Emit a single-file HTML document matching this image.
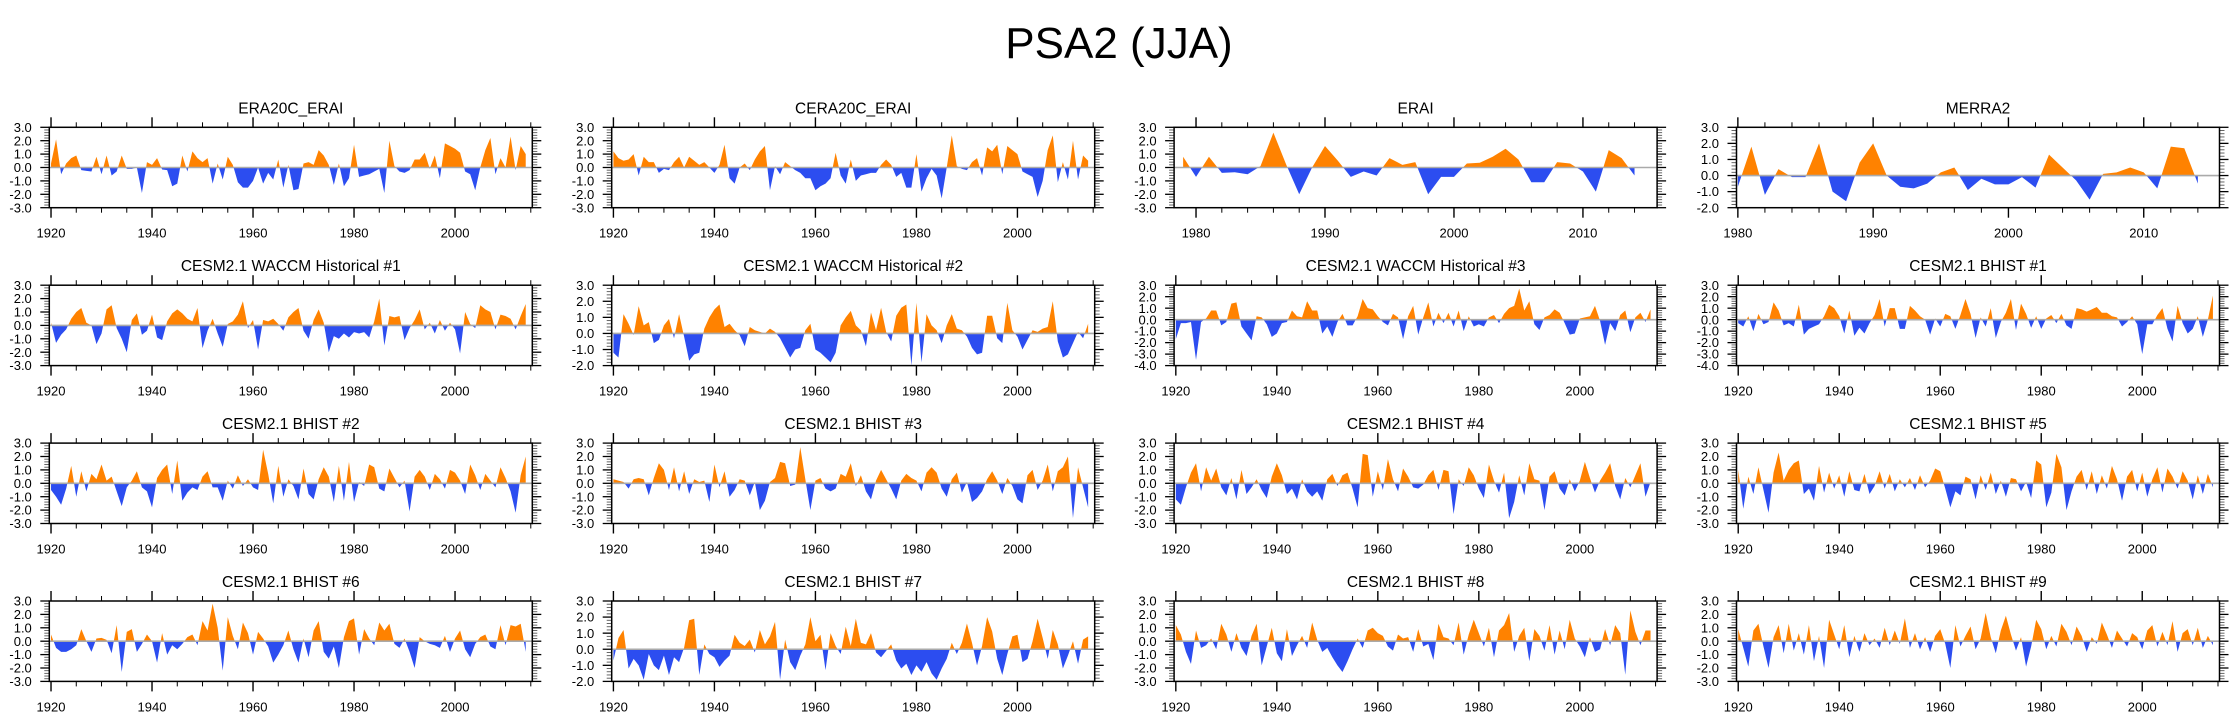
<!DOCTYPE html>
<html><head><meta charset="utf-8"><title>PSA2 (JJA)</title>
<style>
html,body{margin:0;padding:0;background:#fff;}
svg{display:block;font-family:"Liberation Sans",Arial,sans-serif;}
</style></head>
<body>
<svg id="fig" xmlns="http://www.w3.org/2000/svg" width="2238" height="719" viewBox="0 0 2238 719">
<rect x="0" y="0" width="2238" height="719" fill="#fff"/>
<text x="1119" y="58" text-anchor="middle" font-size="44" fill="#000">PSA2 (JJA)</text>
</svg>
<script>
// ---- data ----
const panelTitles = ["ERA20C_ERAI","CERA20C_ERAI","ERAI","MERRA2",
 "CESM2.1 WACCM Historical #1","CESM2.1 WACCM Historical #2","CESM2.1 WACCM Historical #3","CESM2.1 BHIST #1",
 "CESM2.1 BHIST #2","CESM2.1 BHIST #3","CESM2.1 BHIST #4","CESM2.1 BHIST #5",
 "CESM2.1 BHIST #6","CESM2.1 BHIST #7","CESM2.1 BHIST #8","CESM2.1 BHIST #9"];
const startYears = [1920,1920,1979,1980, 1920,1920,1920,1920, 1920,1920,1920,1920, 1920,1920,1920,1920];
const yMins = [-3,-3,-3,-2, -3,-2,-4,-4, -3,-3,-3,-3, -3,-2,-3,-3];
const yMaxs = [3,3,3,3, 3,3,3,3, 3,3,3,3, 3,3,3,3];
const longXTickLabels = ["1920","1940","1960","1980","2000"];
const shortXTickLabels = ["1980","1990","2000","2010"];

const sERA20C = [0.3,2.1,-0.5,0.3,0.7,0.9,-0.2,-0.25,-0.3,0.8,
-0.5,0.9,-0.6,-0.3,0.9,-0.1,-0.1,0.0,-1.9,0.4,
0.2,0.7,-0.15,-0.2,-1.4,-1.2,0.9,-0.3,1.2,0.7,
0.4,0.7,-1.2,0.3,-0.9,0.8,0.2,-1.1,-1.5,-1.5,
-1.0,0.0,-1.2,-0.4,-0.9,0.6,-1.5,0.2,-1.7,-1.6,
0.3,0.4,0.2,1.3,0.9,0.2,-1.3,0.3,-1.4,-0.8,
1.7,-0.7,-0.6,-0.5,-0.3,-0.1,-1.9,2.0,0.1,-0.3,
-0.4,-0.2,0.6,0.6,1.1,-0.1,0.9,-0.8,1.8,1.6,
1.4,1.1,-0.3,-0.5,-1.7,0.0,1.3,2.2,-0.5,0.7,
0.0,2.3,-0.2,1.6,1.0];
const sCERA20C = [1.2,0.7,0.5,0.6,1.0,-0.6,0.8,0.4,0.4,-0.4,
-0.1,-0.2,0.4,0.8,0.0,0.8,0.5,0.2,0.4,0.0,
-0.4,0.2,1.7,-0.8,-1.2,0.0,0.3,-0.2,0.6,1.2,
1.6,-1.7,0.1,-0.5,0.4,0.1,-0.2,-0.4,-0.8,-0.8,
-1.7,-1.4,-1.2,-0.8,1.1,-0.6,-1.2,0.6,-1.0,-0.6,
-0.5,-0.4,-0.4,0.2,0.6,0.2,-0.7,-0.4,-1.5,-1.5,
1.0,-1.8,-0.8,-0.1,-0.6,-2.3,0.0,2.4,0.1,-0.1,
-0.2,0.4,0.7,-0.6,1.5,1.2,1.7,-0.5,1.6,1.3,
1.0,-0.3,-0.5,-0.7,-2.2,-1.0,1.3,2.4,-1.1,0.4,
-0.9,2.0,-0.9,0.9,0.5];
const sERAI = [0.8,-0.7,0.8,-0.4,-0.35,-0.5,0.1,2.6,0.2,-2.0,
0.0,1.6,0.5,-0.7,-0.3,-0.6,0.7,0.2,0.4,-2.0,
-0.7,-0.7,0.3,0.35,0.8,1.4,0.6,-1.1,-1.1,0.4,
0.3,-0.3,-1.8,1.3,0.7,-0.6];
const sMERRA2 = [-0.7,1.8,-1.2,0.4,-0.1,-0.1,2.0,-1.0,-1.6,0.8,
2.0,0.0,-0.7,-0.8,-0.5,0.2,0.5,-0.9,-0.2,-0.55,
-0.55,-0.1,-0.75,1.3,0.5,-0.3,-1.5,0.1,0.2,0.5,
0.2,-0.8,1.8,1.7,-0.5];
const sWACCM1 = [0.2,-1.3,-0.7,-0.3,0.5,1.0,1.3,0.2,0.0,-1.4,
-0.6,1.2,1.5,-0.2,-1.0,-2.0,0.4,0.9,-0.7,-0.4,
0.8,-0.9,-1.1,0.3,0.9,1.2,0.9,0.5,0.3,1.3,
-1.7,-0.4,0.5,-0.6,-1.6,0.1,0.3,0.8,1.8,-0.2,
0.4,-1.8,0.4,0.3,0.5,0.1,-0.4,0.6,1.0,1.3,
-0.4,-1.0,0.4,1.2,0.2,-2.0,-0.8,-1.0,-0.6,-0.9,
-0.5,-0.6,-0.5,-0.9,0.3,2.0,-1.5,0.7,0.6,0.7,
-1.1,-0.2,0.4,1.2,-0.3,0.2,-0.6,0.4,-0.4,0.2,
-0.3,-2.1,1.0,0.1,-0.2,1.5,1.2,1.0,-0.3,0.8,
0.7,0.5,-0.3,0.7,1.6];
const sWACCM2 = [-1.2,-1.5,1.2,0.6,-0.1,1.7,0.5,0.7,-0.6,-0.4,
0.5,0.9,-0.3,1.2,-0.2,-1.7,-1.3,-1.2,0.3,1.0,
1.5,1.8,0.4,0.6,0.2,-0.1,-0.8,0.4,0.2,0.1,
0.0,0.3,0.1,-0.3,-0.9,-1.5,-1.0,-0.9,0.2,0.6,
-1.0,-1.2,-1.5,-1.8,-1.2,0.5,1.0,1.4,0.5,0.2,
-0.8,1.3,0.2,1.6,0.1,-0.5,1.1,1.6,1.8,-2.0,
1.9,-1.8,1.2,0.5,0.2,-0.6,0.5,1.2,0.3,0.2,
-0.2,-0.9,-1.3,-1.2,1.1,1.1,-0.3,-0.6,1.9,0.2,
-0.2,-1.0,-0.4,0.2,0.1,0.3,0.4,2.0,-0.5,-1.5,
-1.3,-0.6,0.1,-0.3,0.6];
const sWACCM3 = [-1.7,-0.3,-0.3,-0.2,-3.5,-0.2,0.1,0.8,0.8,-0.5,
-0.2,1.4,1.5,-0.6,-1.2,-1.8,0.3,0.2,-0.4,-1.5,
-1.2,-0.3,-0.2,0.8,0.3,0.2,1.6,0.8,0.8,-1.2,
-0.6,-1.5,-0.2,0.5,-0.5,-0.5,0.3,1.8,1.0,0.9,
0.3,-0.2,-0.5,0.5,0.2,-1.7,0.3,1.2,-1.3,0.2,
1.5,-0.6,0.6,-0.3,0.6,-0.6,0.8,-1.0,0.3,-0.6,
-0.4,-0.6,0.2,0.4,-0.3,0.5,1.0,1.2,2.7,0.8,
1.6,-0.4,-0.9,0.2,0.4,0.9,0.6,-0.3,-1.3,-1.2,
0.1,0.2,0.3,1.2,-0.1,-2.2,-0.3,-1.0,0.4,0.8,
-1.1,0.2,0.6,-0.2,0.9];
const sBHIST1 = [-0.3,-0.6,0.3,-1.0,0.5,-0.4,-0.2,1.5,0.8,-0.5,
-0.3,-0.6,1.3,-1.3,-0.8,-0.6,-0.4,0.3,1.3,1.0,
0.3,-1.2,0.8,-1.4,-0.7,-1.2,-0.3,0.4,1.8,-0.6,
1.0,1.0,-0.8,-0.8,1.2,0.8,0.3,0.0,-1.3,0.1,
-0.6,0.5,0.3,-0.8,0.4,1.8,0.5,-1.6,0.2,-0.6,
1.0,-1.6,-0.2,0.6,1.8,-0.9,1.4,0.5,-0.7,0.3,
-0.8,0.1,0.4,-0.3,0.5,-0.5,-0.8,1.0,0.9,0.7,
0.9,1.1,0.6,0.6,0.3,0.2,-0.6,-0.2,0.3,-0.4,
-3.0,-0.4,-0.4,0.4,1.0,-0.8,-1.9,1.2,-0.3,-1.2,
-0.8,0.3,-1.5,0.0,2.1];
const sBHIST2 = [-0.5,-1.0,-1.6,-0.4,1.3,-1.0,0.9,-0.6,0.7,0.3,
1.4,0.2,0.5,-0.6,-1.7,-0.3,0.2,0.9,-0.3,-0.6,
-1.8,0.4,1.0,1.4,-0.8,1.7,-1.3,-0.7,-0.3,-0.5,
0.5,0.9,-0.3,-0.3,-1.3,0.2,-0.4,0.6,-0.2,0.3,
-0.3,-0.5,2.5,0.7,-1.5,1.3,-1.0,0.3,-0.2,-1.2,
1.1,-0.8,-1.2,0.3,1.2,0.5,-1.4,1.3,-1.3,1.6,
-1.4,0.1,-0.2,1.4,1.2,-0.4,-0.6,1.1,0.4,-0.3,
0.2,-2.1,0.5,1.0,0.5,-0.5,0.7,0.3,-0.4,1.0,
0.8,0.2,-0.8,1.4,0.6,-0.5,0.7,0.2,-0.3,1.2,
0.4,-0.6,-2.2,0.6,2.0];
const sBHIST3 = [0.3,0.2,0.1,-0.4,0.3,0.4,0.3,-0.9,0.4,1.5,
1.0,-0.5,1.2,-0.6,0.9,-0.8,0.3,0.1,0.2,-1.4,
1.4,-0.3,0.9,-1.0,-0.5,0.3,0.2,-0.9,0.1,-2.0,
-1.3,0.1,0.4,1.6,1.5,-0.2,-0.1,2.7,0.3,-2.0,
0.2,0.4,-0.4,-0.6,-0.4,0.7,0.5,1.5,-0.2,0.6,
-0.6,-1.2,0.2,1.0,0.3,-0.4,-1.2,0.2,0.7,0.4,
0.2,-0.6,0.8,1.2,0.8,-0.4,-1.0,0.3,0.8,-0.7,
0.1,-1.4,-1.1,-0.6,0.3,0.9,0.2,-0.8,0.4,-0.2,
-1.2,-1.5,0.6,1.0,-0.5,0.2,1.4,-0.6,0.9,1.2,
2.0,-2.6,1.2,-0.3,-1.8];
const sBHIST4 = [-1.2,-1.6,-0.3,0.8,1.5,-0.6,1.2,0.2,1.1,-0.3,
-0.9,0.4,-1.2,1.0,-0.8,-0.3,0.3,-0.5,-1.1,0.5,
1.5,0.6,-0.8,-0.4,-1.2,0.3,-0.6,-1.0,-0.6,-1.3,
0.3,0.7,-0.2,0.6,0.8,-0.4,-1.8,2.2,2.1,-1.0,
0.9,-0.5,1.8,0.3,-0.6,1.1,0.5,-0.3,-0.4,-0.1,
0.6,1.0,-0.5,1.0,0.9,-2.3,0.3,-0.2,1.2,0.6,
-0.4,-1.1,1.4,0.2,-0.7,0.8,-2.6,-1.4,0.6,-0.9,
1.5,0.3,0.2,-2.0,0.5,0.9,-0.4,-0.9,0.3,-0.6,
0.2,1.6,0.4,-0.7,0.2,0.8,1.5,-0.2,-1.2,0.4,
-0.3,0.6,1.5,-1.0,0.1];
const sBHIST5 = [1.0,-1.9,0.5,-0.8,1.2,-0.5,-2.2,0.8,2.3,0.2,
1.0,1.5,1.7,-0.8,-0.4,-1.3,1.3,-0.7,0.8,-0.4,
0.6,-1.0,0.9,-0.5,-0.6,0.7,-0.8,-0.2,0.9,-0.4,
0.7,-0.6,0.3,-0.3,0.4,-0.5,0.6,-0.3,0.2,1.1,
0.9,-0.4,-1.8,-0.6,-0.9,0.5,0.3,-1.2,0.6,-0.5,
0.8,-0.8,0.2,-1.0,0.4,0.3,-0.6,0.1,-1.1,1.7,
1.4,-1.8,-0.7,2.2,1.2,-2.0,-0.6,0.5,1.0,-0.5,
0.9,-0.8,0.6,-0.4,1.3,0.3,-1.3,0.5,1.0,-0.6,
0.8,-1.0,0.3,1.2,-0.7,1.1,0.5,-0.4,0.9,0.2,
-1.2,0.6,-0.8,0.7,-0.3];
const sBHIST6 = [0.5,-0.5,-0.8,-0.8,-0.6,-0.3,0.9,0.0,-0.8,0.2,
0.25,0.1,-0.9,1.2,-2.3,0.7,0.9,-0.8,-0.2,0.5,
0.0,-1.6,0.6,-1.0,-0.3,-0.6,-0.2,0.3,0.5,-0.3,
1.5,0.8,2.8,1.0,-2.2,1.8,0.4,-0.6,1.4,0.6,
-1.0,0.7,0.2,-0.4,-1.6,-1.0,-0.3,0.8,-0.6,-1.6,
0.2,-1.2,0.8,1.5,-0.8,-1.3,-0.4,-2.0,0.3,1.5,
1.7,-1.0,0.9,0.2,-0.3,1.4,0.8,1.3,-0.2,-0.5,
0.2,-0.8,-2.0,0.3,0.0,-0.2,-0.3,-0.5,0.4,-0.8,
0.2,0.8,-0.6,-1.2,-0.2,0.3,0.5,-0.4,-0.6,1.2,
-0.3,1.2,1.1,1.3,-0.8];
const sBHIST7 = [-0.7,0.7,1.2,-1.2,-0.6,-1.0,-1.9,-0.3,-1.0,-1.3,
-0.4,-1.6,-0.5,-0.8,0.1,1.8,1.9,-1.6,0.3,-0.3,
-0.5,-1.1,-0.7,-0.4,0.9,0.4,0.2,0.6,-0.2,1.2,
0.3,0.8,1.7,-1.9,0.6,-0.8,-1.3,-0.4,0.3,2.0,
0.5,0.9,-1.3,1.0,0.2,-0.3,1.4,0.2,1.9,0.4,
0.3,1.0,-0.2,-0.5,-0.1,0.3,-0.7,-1.2,-0.9,-1.6,
-1.0,-1.4,-0.8,-1.5,-1.9,-1.2,-0.6,0.4,-0.3,0.4,
1.6,0.4,-1.0,0.2,2.0,1.1,-0.6,-1.6,-0.3,0.8,
0.9,-0.8,-0.6,0.5,1.9,0.7,-0.6,1.2,0.3,-1.2,
-0.4,0.5,-0.9,0.6,0.8];
const sBHIST8 = [1.2,0.5,-0.8,-1.7,0.8,-0.5,-0.3,0.2,-0.6,1.3,
0.5,-0.8,0.6,-0.5,-1.1,0.4,1.3,-1.8,-0.4,1.0,
-0.9,-1.5,0.9,-1.1,-0.3,0.4,-0.5,1.4,0.1,-0.8,
-0.5,-1.2,-1.8,-2.3,-1.5,-0.6,0.2,-0.5,0.8,1.0,
0.6,0.4,-0.4,-0.7,0.5,0.2,0.3,-0.8,0.9,-0.4,
-0.2,-1.4,1.3,0.3,0.2,-0.3,1.4,-1.0,0.5,1.6,
0.6,-0.4,1.0,-1.2,0.8,1.2,2.1,-0.8,0.4,1.0,
-1.5,0.9,0.4,-0.7,1.2,-1.0,0.8,-0.6,1.6,0.2,
-0.4,-1.2,0.3,-0.8,-0.6,0.9,-0.3,1.2,0.6,-2.5,
2.3,0.7,-0.3,0.8,0.8];
const sBHIST9 = [0.9,-0.5,-1.9,0.8,1.3,-0.4,-2.0,0.3,1.2,-0.9,
1.3,-0.7,0.6,-1.0,1.2,-1.5,0.4,-2.0,1.6,0.5,
-0.6,1.2,-1.2,0.4,-0.8,0.6,-0.3,0.2,-0.5,1.0,
-0.3,0.8,-0.2,1.7,-0.5,0.6,-0.6,0.3,-0.8,0.4,
0.9,-0.2,-2.0,1.2,-0.4,0.4,1.1,-0.6,0.2,2.1,
0.3,-0.9,0.8,1.9,0.5,-0.7,0.3,-1.9,-0.4,1.6,
0.9,-0.6,0.4,-0.4,1.3,0.7,-0.3,1.1,0.4,-0.8,
0.3,-0.2,1.4,0.5,-0.5,0.8,0.2,-0.4,0.6,0.3,
-0.6,0.8,1.2,-0.4,0.7,-0.3,1.5,-0.8,0.6,0.9,
-0.3,1.0,-0.5,0.4,-0.3];
const allSeries = [sERA20C,sCERA20C,sERAI,sMERRA2,sWACCM1,sWACCM2,sWACCM3,sBHIST1,
 sBHIST2,sBHIST3,sBHIST4,sBHIST5,sBHIST6,sBHIST7,sBHIST8,sBHIST9];

// ---- layout ----
const NS = "http://www.w3.org/2000/svg";
const svg = document.getElementById('fig');
const COL0 = 49.3, COLSTEP = 562.4, ROW0 = 127.3, ROWSTEP = 157.9, BW = 483, BH = 80.4;
const ORANGE = "#ff8200", BLUE = "#2c4df0";

function mk(tag, attrs, parent){
  const el = document.createElementNS(NS, tag);
  for (const k in attrs) el.setAttribute(k, attrs[k]);
  (parent || svg).appendChild(el);
  return el;
}

function xDomainFor(i){
  if (startYears[i] === 1979) return [1978.3, 2015.75];
  if (startYears[i] === 1980) return [1979.9, 2015.6];
  return [1919.66, 2015.3];
}

for (let i = 0; i < allSeries.length; i++){
  const r = Math.floor(i/4), c = i % 4;
  const L = COL0 + c*COLSTEP, T = ROW0 + r*ROWSTEP, R = L + BW, B = T + BH;
  const dom = xDomainFor(i);
  const xs = yr => L + (yr - dom[0]) / (dom[1] - dom[0]) * BW;
  const ys = v => B - (v - yMins[i]) / (yMaxs[i] - yMins[i]) * BH;
  const vals = allSeries[i];
  const y0 = startYears[i];

  const g = mk('g', {});
  
  

  const title = mk('text', {x: (L+R)/2, y: T-14, 'text-anchor':'middle', 'font-size':'15.5', fill:'#000'}, g);
  title.textContent = panelTitles[i];
  
  

  // clip paths
  const defs = mk('defs', {}, g);
  const zy = ys(0);
  const cpA = mk('clipPath', {id:'ca'+i}, defs);
  mk('rect', {x:L, y:T, width:BW, height:Math.max(0, zy-T)}, cpA);
  const cpB = mk('clipPath', {id:'cb'+i}, defs);
  mk('rect', {x:L, y:zy, width:BW, height:Math.max(0, B-zy)}, cpB);

  let pts = xs(y0).toFixed(2) + ',' + zy.toFixed(2) + ' ';
  for (let k = 0; k < vals.length; k++) pts += xs(y0+k).toFixed(2) + ',' + ys(vals[k]).toFixed(2) + ' ';
  pts += xs(y0+vals.length-1).toFixed(2) + ',' + zy.toFixed(2);

  const pos = mk('polygon', {points:pts, fill:ORANGE, 'clip-path':'url(#ca'+i+')'}, g);
  
  
  const neg = mk('polygon', {points:pts, fill:BLUE, 'clip-path':'url(#cb'+i+')'}, g);
  
  

  const zl = mk('line', {x1:L, x2:R, y1:zy, y2:zy, stroke:'#aaaaaa', 'stroke-width':'1.6'}, g);
  
  

  // y ticks
  const yt = mk('g', {stroke:'#000', 'stroke-width':'1'}, g);
  
  
  const nMinor = Math.round((yMaxs[i]-yMins[i]) / 0.2);
  for (let k = 0; k <= nMinor; k++){
    const v = yMins[i] + k*0.2;
    const yy = ys(v);
    const major = (k % 5 === 0);
    const len = major ? 9 : 5;
    mk('line', {x1:L-len, x2:L, y1:yy, y2:yy, 'stroke-width': major?1.3:0.9, stroke: major?'#000':'#555'}, yt);
    mk('line', {x1:R, x2:R+len, y1:yy, y2:yy, 'stroke-width': major?1.3:0.9, stroke: major?'#000':'#555'}, yt);
  }
  for (let v = yMins[i]; v <= yMaxs[i]; v++){
    const lab = mk('text', {x:L-17.5, y:ys(v)+4.6, 'text-anchor':'end', 'font-size':'13', fill:'#000'}, g);
    lab.textContent = v.toFixed(1);
    
    
  }

  // x ticks
  const xt = mk('g', {stroke:'#000'}, g);
  
  
  const shortAxis = startYears[i] !== 1920;
  const minorStep = shortAxis ? 2 : 5, majorStep = shortAxis ? 10 : 20;
  const firstYr = Math.ceil(dom[0]/minorStep)*minorStep;
  for (let yr = firstYr; yr <= dom[1]; yr += minorStep){
    const xx = xs(yr);
    const major = (yr % majorStep === 0);
    const len = major ? 10 : 5;
    mk('line', {x1:xx, x2:xx, y1:T-len, y2:T, 'stroke-width': major?1.4:1}, xt);
    mk('line', {x1:xx, x2:xx, y1:B, y2:B+len, 'stroke-width': major?1.4:1}, xt);
  }
  const labs = shortAxis ? shortXTickLabels : longXTickLabels;
  for (let k = 0; k < labs.length; k++){
    const xl = mk('text', {x:xs(+labs[k]), y:B+30, 'text-anchor':'middle', 'font-size':'13', fill:'#000'}, g);
    xl.textContent = labs[k];
    
    
  }

  const frame = mk('rect', {x:L, y:T, width:BW, height:BH, fill:'none', stroke:'#000', 'stroke-width':'1.5'}, g);
  
  
}
</script>
</body></html>
